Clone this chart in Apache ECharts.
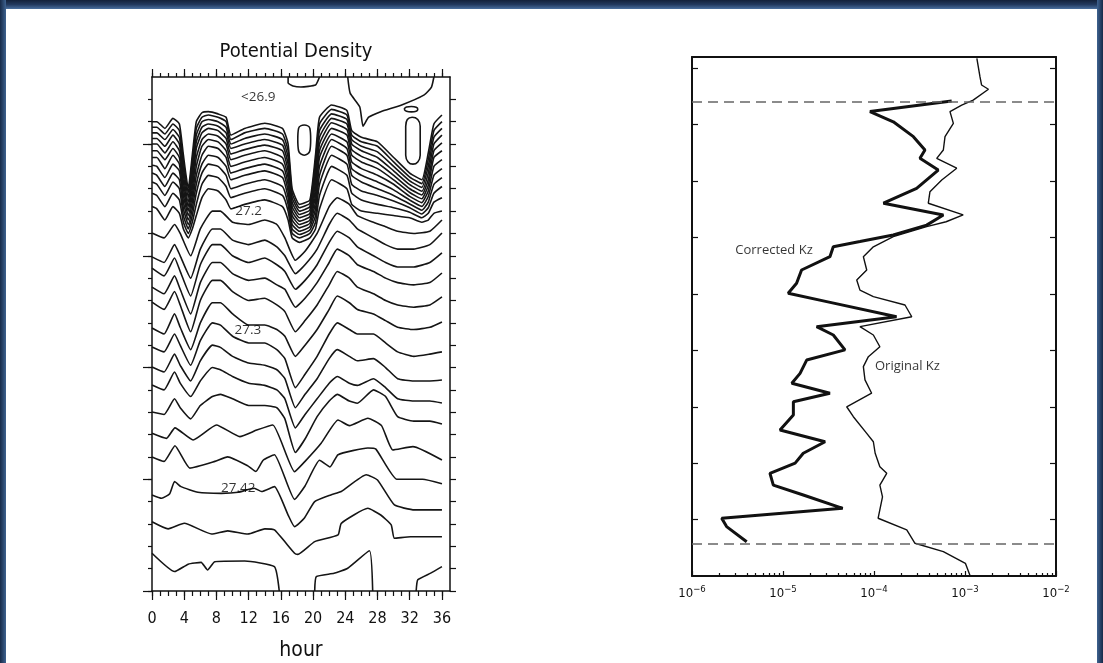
<!DOCTYPE html>
<html><head><meta charset="utf-8">
<script src="https://cdn.jsdelivr.net/npm/echarts@6/dist/echarts.min.js"></script>
<style>html,body{margin:0;padding:0;background:#fff}#c{width:1103px;height:663px}</style>
</head><body><div id="c"></div>
<script>
const NARROW = "'Liberation Sans Narrow','DejaVu Sans Condensed','Open Sans',sans-serif";
const SANS = "'Open Sans','Noto Sans','Liberation Sans',sans-serif";

// ---------- tick / label arrays ----------
const hourLabelVals = [0,4,8,12,16,20,24,28,32,36];
const hourMinorVals = [0,1,2,3,4,5,6,7,8,9,10,11,12,13,14,15,16,17,18,19,20,21,22,23,24,25,26,27,28,29,30,31,32,33,34,35,36];
const depthMajorVals = [50,100,150,200,250];
const depthMinorVals = [30,40,50,60,70,80,90,100,110,120,130,140,150,160,170,180,190,200,210,220,230,240,250];
const kzDepthTicks = [25,50,75,100,125,150,175,200,225];
const kzMajorVals = [1e-6,1e-5,1e-4,1e-3,1e-2];
const kzMinorVals = [2e-6,3e-6,4e-6,5e-6,6e-6,7e-6,8e-6,9e-6,2e-5,3e-5,4e-5,5e-5,6e-5,7e-5,8e-5,9e-5,
  2e-4,3e-4,4e-4,5e-4,6e-4,7e-4,8e-4,9e-4,2e-3,3e-3,4e-3,5e-3,6e-3,7e-3,8e-3,9e-3];
const dashedDepths = [40, 235.5];

// ---------- potential density contours (hour, depth m) ----------
const bandHours = [0,0.6,1.6,2.6,3.4,3.9,4.5,5.0,5.5,6.2,7.0,8.2,9.2,9.8,11.5,14,16.2,16.9,17.4,18.3,19.6,20.3,20.8,22.3,24.2,24.8,26,28,30,32,33.5,34.3,35,36];
const P1  = [40,40,43,38.5,41,55,70,55,40,36,35.5,36.5,38,46,43,40.7,43,50,70,77,75,55,38,32.5,35,44,47,49,56,63,66,54,41,37];
const P2  = [42.5,42.5,45.5,41,44,58,72,58,43,38,37,38,40,48,45,43,45.5,53,72,78.5,76.5,58,41,34.5,37,46,49,51,58,64.8,67.7,57,44,40];
const P3  = [45,45,48,43.5,47,61,74,61,46,40,39,40,42.5,50,47.5,45.5,48,56,74,80,78,61,44,36.5,39,48,51,53.5,60,66.5,69.4,60,47,43];
const P4  = [47.5,47.5,51,46,50,64,76,64,49,42.5,41,42,45,52,50,48,50.5,59,76,81.5,79.5,64,47,38.5,41,50,53,56,62,68.2,71.1,63,50,46];
const P5  = [50,50,54,49,53,67,78,67,52,45,43,44,47.5,54.5,52.5,50.5,53,62,78,83,81,67,50,40.5,43.5,52.5,55.5,58.5,64,70,72.8,66,53,49.5];
const P6  = [53,53,57,52,56,70,80,70,56,48,45.5,46.5,50,57,55,53,56,65,80,84.5,82.5,70,53,43,46,55,58,61,66,71.7,74.5,68.5,56,53];
const P7  = [56,56,61,55,59,73,82,73,60,51,48,49,53,60,58,56,59,68,82,86,84,73,56,45.5,49,58,61,64,68,73.4,76.2,71,60,57];
const P8  = [59.5,60,65,59,62,76,84,76,64,55,51,52,56,63,61,59,62,71,84,87.5,85.5,76,60,48,52,61,64,67,70.5,75.1,77.9,73.5,64,61];
const P9  = [63,64,69,63,66,79,86,79,68,59,55,56,60,66,64,62,65,74,86,89,87,79,64,51,55,64,67,70,73,76.8,79.6,76,68,65];
const P10 = [67,68,73,67,70,82,88,82,72,63,59,60,64,70,68,66,69,77,88,90.5,88.5,82,68,55,59,68,71,73,75.5,78.5,81.3,78.5,72,69];
const P11 = [72,73,78,72,75,85,90,85,77,68,64,65,69,74,72,70,73,80,90,92,90,85,73,60,64,72,75,77,78.5,80.5,83,81,76,74];
const P12 = [78,79,84,78,81,88,92,88,82,74,70,71,75,79,77,75,78,84,92,94,92,88,79,66,70,77,80,81,82,83,85,84,81,80];

const deepHours = [0,1.5,2.8,3.5,4.8,6,7.5,8.5,10,12,14,15.5,16.5,17.8,19,20.5,22,23,24.5,25.5,27.5,29,30.5,32.5,34.5,36];
const LO = [89.8,92,86,90,100,88,80,80,85,86,84,86,92,102,98,90,78,74,77,82,85,87,89,90,89,84];
const LN = [100.5,103,95,100,110,97,88,88,93,95,93,96,100,108,104,97,86,81,84,88,92,95,97,97,95,89.8];
const LM = [105.5,109,101,107,118,104,95,95,100,103,101,104,107,115,111,104,94,89,92,96,100,103,105,105,103,98.7];
const LL = [114,117,109,115,126,112,103,103,108,111,110,113,115,123,119,112,103,97,100,104,107,110,112,113,112,107.7];
const LK = [120.7,124,116,122,134,120,111,111,116,120,119,122,125,134,129,122,113,107,110,114,117,120,122,123,122,118.4];
const LJ = [132.3,135,126,132,142,130,121,121,126,131,131,133,136,145,140,133,124,118,121,124,126,129,132,133,132,129.6];
const LI = [140.8,143,135,140,149,138,130,131,136,139,139,142,146,159,153,145,135,130,133,135,135,139,143,145,144,143];
const LH = [149.8,152,144,149,156,147,140,141,145,148,149,151,155,168,162,155,146,142,145,147,146,150,155,156,156,155.6];
const LG = [157.8,160,152,157,163,156,150,151,154,157,158,160,164,177,171,164,157,154,157,158,155,159,164,165,165,165.9];
const LF = [169.9,171,164,168,173,167,163,162,164,167,167,168,173,188,182,172,165,162,165,166,160,163,172,174,174,175.3];

const LE = [[0,179.4],[1.8,181.7],[2.85,177],[5.1,182.4],[8,175.7],[10.9,180.9],[13,178],[15,175.7],[17.7,196.6],[19,192],[21,183.9],[23.1,173.5],[24.5,176],[26.8,172.7],[28.5,176],[29.9,186.9],[32.4,185.4],[36,191.4]];
const LD = [[0,190],[1.5,192],[2.85,185],[4.7,195],[7.8,192],[9.4,190],[11.9,194],[12.9,196.5],[13.8,191.5],[15.2,189],[17.7,209],[19,203],[20.8,191.5],[22.1,194.5],[23.1,189],[26.8,186],[27.8,186.5],[30.4,200],[33.6,200],[36,202]];
const LC = [[0,207],[1.2,208.5],[2.2,206.5],[2.8,201],[3.6,203.3],[5.7,205.8],[8.6,206.3],[10.7,205.8],[12.7,204],[13.6,205.5],[15.2,203.3],[16.9,216],[17.7,221.2],[18.9,217.5],[20.2,210],[22.2,207],[23.5,205.5],[26.6,198],[28,200.3],[30.1,211.5],[32.6,213.7],[36,213.7]];
const LB = [[0,219],[2,222.2],[4,219.7],[7.4,224.5],[9.4,223.1],[11.9,224.5],[14,222.2],[15.2,222.7],[17.7,233.1],[18.1,233.6],[20.2,227.9],[23.1,224.9],[23.5,219.7],[26.8,213],[28.4,216],[29.7,220.4],[30.1,226.4],[32.1,225.7],[36,225.7]];
const LA1 = [[0,233.1],[2.8,241.3],[4.5,238],[6.1,237.2],[6.9,240.6],[7.8,236.9],[11.5,236.6],[15.2,239.1],[15.8,250]];
const LA2 = [[20.2,250],[20.4,243.6],[22.6,242.1],[24.3,239.8],[27,232],[27.4,250]];
const LA3 = [[32.8,250],[33,245],[34.6,242],[36,239.1]];
const topU = [[16.9,20],[16.9,22.7],[17.5,24],[18.5,24.5],[20.3,23.6],[20.8,20]];
const topLine = [[24.3,20],[24.6,27.2],[25.8,33.4],[26.2,42],[26.9,38],[28.4,35.5],[31,32.5],[33.8,28],[34.7,24.5],[35,20]];
const smallEllipse = [[31.3,34.4],[31.6,33.4],[32.2,33.2],[32.8,33.5],[33,34.4],[32.8,35.3],[32.2,35.6],[31.6,35.3],[31.3,34.4]];
const tallOval = [[31.5,42],[31.7,39],[32.3,38],[33,39],[33.3,42],[33.3,55],[33,58],[32.4,59],[31.8,58],[31.5,55],[31.5,42]];
const midOval = [[18.1,48],[18.2,43],[18.9,41.5],[19.6,43],[19.7,48],[19.6,53],[18.9,55],[18.2,53],[18.1,48]];

const contourLabels = [[13.2,29.2,'<26.9'],[12,80,'27.2'],[11.9,133.5,'27.3'],[10.7,204,'27.42']];

// ---------- Kz profiles ----------
const origDepth = [20.6,28.7,32.4,34.3,39.1,41.3,44.2,49.4,55.3,61.2,64.9,69.3,74.5,79.7,84.8,90.0,93.0,95.2,99.6,104.1,108.5,114.4,118.8,123.3,126.2,129.9,135.1,139.5,143.2,148.4,152.8,157.2,163.1,169.0,175.0,179.4,186.8,190.5,195.6,201.6,204.5,209.7,214.9,224.4,229.6,235.5,239.2,244.4,250];
const origKz = [1.35e-3,1.46e-3,1.52e-3,1.81e-3,1.23e-3,9.2e-4,6.84e-4,7.45e-4,6.03e-4,5.78e-4,4.89e-4,8.11e-4,5.55e-4,4.12e-4,3.95e-4,9.55e-4,6.2e-4,3.79e-4,1.63e-4,9.84e-5,7.64e-5,8.32e-5,6.46e-5,7.01e-5,9.84e-5,2.19e-4,2.6e-4,7.01e-5,9.84e-5,1.16e-4,8.67e-5,7.64e-5,7.96e-5,9.42e-5,5.01e-5,5.93e-5,8.32e-5,9.84e-5,1.03e-4,1.16e-4,1.38e-4,1.16e-4,1.24e-4,1.11e-4,2.29e-4,2.82e-4,5.78e-4,1.01e-3,1.14e-3];
const corrDepth = [39.5,44.2,48.7,55.3,61.2,64.9,70.1,78.2,84.8,90.0,94.5,98.9,101.8,104.1,108.5,114.4,120.3,124.7,128.4,135.1,139.5,143.2,149.8,154.3,160.2,164.6,169.0,172.8,178.7,185.3,190.5,195.6,200.0,204.5,209.7,214.1,220.0,224.4,228.1,234.8];
const corrKz = [7.14e-4,9.03e-5,1.63e-4,2.71e-4,3.63e-4,3.2e-4,5.08e-4,2.94e-4,1.27e-4,5.78e-4,3.79e-4,1.63e-4,7.01e-5,3.57e-5,3.28e-5,1.6e-5,1.41e-5,1.14e-5,3.02e-5,1.77e-4,2.34e-5,3.57e-5,4.8e-5,1.82e-5,1.54e-5,1.25e-5,3.28e-5,1.3e-5,1.3e-5,9.27e-6,2.9e-5,1.67e-5,1.36e-5,7.19e-6,7.83e-6,1.67e-5,4.53e-5,2.12e-6,2.4e-6,3.99e-6];
const kzLabels = [[7.96e-6,105.5,'Corrected Kz'],[2.33e-4,157.2,'Original Kz']];

// ---------- build ----------
const INK = '#151515';
function contour(data, smooth) {
  return {type:'line', xAxisIndex:0, yAxisIndex:0, data, symbol:'none', smooth: smooth||0.15,
    lineStyle:{color:INK, width:1.6}, silent:true, clip:true, z:2};
}
const series = [];
[P1,P2,P3,P4,P5,P6,P7,P8,P9,P10,P11,P12].forEach(a => series.push(contour(a.map((d,i)=>[bandHours[i], d]))));
[LO,LN,LM,LL,LK,LJ,LI,LH,LG,LF].forEach(a => series.push(contour(a.map((d,i)=>[deepHours[i], d]))));
[LE,LD,LC,LB,LA1,LA2,LA3,topU,topLine].forEach(a => series.push(contour(a)));
[smallEllipse,tallOval,midOval].forEach(a => series.push(contour(a, 0.4)));
const labelText = {show:true, position:'inside', formatter:p=>p.data[2], fontFamily:SANS, color:'#000',
  textBorderWidth:0, textBorderColor:'transparent', textShadowBlur:0};
series.push({type:'scatter', xAxisIndex:0, yAxisIndex:0, data: contourLabels, symbolSize:1,
  itemStyle:{color:'rgba(0,0,0,0)'}, silent:true, z:5,
  label:Object.assign({fontSize:13.5}, labelText)});

series.push({type:'line', xAxisIndex:4, yAxisIndex:3, data: origDepth.map((d,i)=>[origKz[i], d]),
  symbol:'none', lineStyle:{color:'#111', width:1.4}, silent:true, z:3});
series.push({type:'line', xAxisIndex:4, yAxisIndex:3, data: corrDepth.map((d,i)=>[corrKz[i], d]),
  symbol:'none', lineStyle:{color:'#111', width:3}, silent:true, z:4,
  markLine:{silent:true, symbol:['none','none'], label:{show:false},
    lineStyle:{color:'#666', width:1.5, type:[10,6]},
    data: dashedDepths.map(d=>({yAxis:d}))}});
series.push({type:'scatter', xAxisIndex:4, yAxisIndex:3, data: kzLabels, symbolSize:1,
  itemStyle:{color:'rgba(0,0,0,0)'}, silent:true, z:5,
  label:Object.assign({fontSize:13}, labelText)});

const axLine = {show:true, onZero:false, lineStyle:{color:'#111', width:1.5}};
const noLine = {show:false, onZero:false};
const tickStyle = {color:'#111', width:1.2};
function hx(pos, line, ticks, len, extra) {
  return Object.assign({gridIndex:0, type:'value', min:0, max:37, position:pos, axisLine: line,
    axisTick:{show:true, inside:false, customValues:ticks, length:len, lineStyle:tickStyle},
    axisLabel:{show:false}, splitLine:{show:false}}, extra||{});
}
function dy(pos, line, ticks, len) {
  return {gridIndex:0, type:'value', inverse:true, min:20, max:250, position:pos, axisLine: line,
    axisTick:{show:true, inside:false, customValues:ticks, length:len, lineStyle:tickStyle},
    axisLabel:{show:false}, splitLine:{show:false}};
}
function kx(pos, line, ticks, len, extra) {
  return Object.assign({gridIndex:1, type:'log', logBase:10, min:1e-6, max:1e-2, position:pos,
    axisLine: line,
    axisTick: ticks ? {show:true, inside:true, customValues:ticks, length:len, lineStyle:tickStyle} : {show:false},
    axisLabel:{show:false}, splitLine:{show:false}, minorTick:{show:false}}, extra||{});
}
function ky(pos) {
  return {gridIndex:1, type:'value', inverse:true, min:20, max:250, position:pos,
    axisLine:{show:true, onZero:false, lineStyle:{color:'#111', width:2}},
    axisTick:{show:true, inside:true, customValues:kzDepthTicks, length:6, lineStyle:tickStyle},
    axisLabel:{show:false}, splitLine:{show:false}};
}
const option = {
  animation:false,
  backgroundColor:'#ffffff',
  title:{text:'Potential Density', left:291, top:37, textAlign:'center',
    textStyle:{fontSize:20, fontWeight:'normal', fontFamily:NARROW, color:'#111'}},
  grid:[
    {left:152, top:77, width:298, height:514, outerBoundsMode:'none', containLabel:false},
    {left:692, top:57, width:364, height:519, outerBoundsMode:'none', containLabel:false}
  ],
  xAxis:[
    hx('bottom', axLine, hourLabelVals, 9, {
      axisLabel:{show:true, customValues:hourLabelVals, fontSize:16, fontFamily:NARROW, color:'#111', margin:20},
      name:'hour', nameLocation:'middle', nameGap:49,
      nameTextStyle:{fontSize:21, fontFamily:NARROW, color:'#111'}}),
    hx('bottom', noLine, hourMinorVals, 5),
    hx('top', axLine, hourLabelVals, 8),
    hx('top', noLine, hourMinorVals, 4),
    kx('bottom', {show:true, onZero:false, lineStyle:{color:'#111', width:2}}, kzMajorVals, 5, {
      axisLabel:{show:true, customValues:kzMajorVals, margin:9, color:'#111',
        formatter: v => { const e = Math.round(Math.log10(v)); return '{b|10}{s|' + (e<0?'\u2212':'') + Math.abs(e) + '}'; },
        rich:{b:{fontSize:13, fontFamily:NARROW, color:'#111'}, s:{fontSize:9.5, fontFamily:NARROW, color:'#111', padding:[0,0,8,0]}}}}),
    kx('bottom', noLine, kzMinorVals, 3),
    kx('top', {show:true, onZero:false, lineStyle:{color:'#111', width:2}}, null, 0)
  ],
  yAxis:[
    dy('left', axLine, depthMinorVals, 4),
    dy('left', noLine, depthMajorVals, 9),
    dy('right', axLine, depthMinorVals, 6),
    ky('left'),
    ky('right')
  ],
  graphic:[
    {type:'rect', shape:{x:0,y:0,width:1103,height:9}, z:100, silent:true,
      style:{fill:{type:'linear',x:0,y:0,x2:0,y2:1,colorStops:[{offset:0,color:'#13213a'},{offset:0.5,color:'#22395e'},{offset:1,color:'#4a6f9e'}]}}},
    {type:'rect', shape:{x:0,y:0,width:6,height:663}, z:100, silent:true,
      style:{fill:{type:'linear',x:0,y:0,x2:1,y2:0,colorStops:[{offset:0,color:'#172a48'},{offset:1,color:'#3e6290'}]}}},
    {type:'rect', shape:{x:1097,y:0,width:6,height:663}, z:100, silent:true,
      style:{fill:{type:'linear',x:0,y:0,x2:1,y2:0,colorStops:[{offset:0,color:'#3e6290'},{offset:1,color:'#172a48'}]}}}
  ],
  series
};
const chart = echarts.init(document.getElementById('c'), null, {renderer:'canvas'});
chart.setOption(option);
</script>
</body></html>
